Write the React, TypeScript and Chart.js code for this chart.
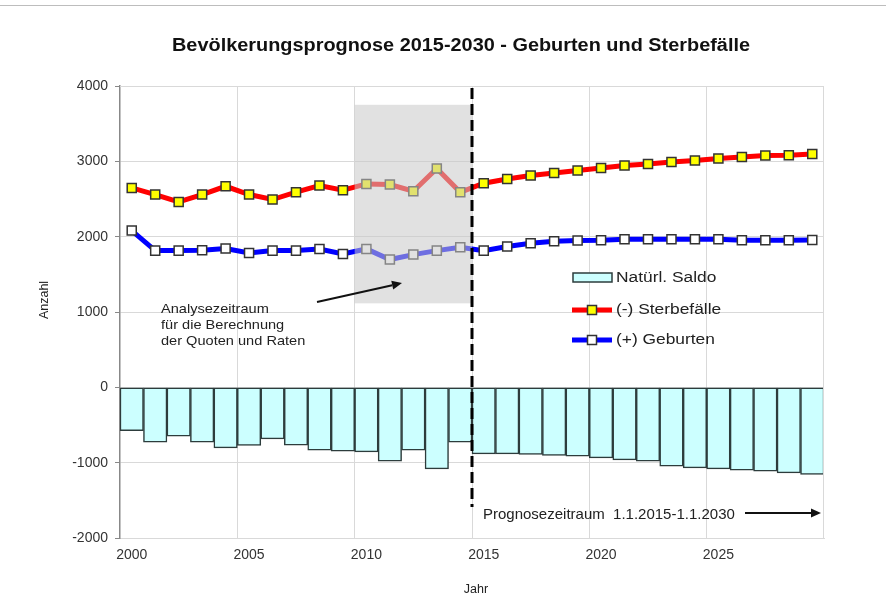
import React, { useEffect, useRef } from 'react';
import { Chart, registerables } from 'chart.js';

Chart.register(...registerables);

const FONT = "'Liberation Sans', Arial, sans-serif";

const years = [
  '2000', '2001', '2002', '2003', '2004', '2005', '2006', '2007', '2008', '2009',
  '2010', '2011', '2012', '2013', '2014', '2015', '2016', '2017', '2018', '2019',
  '2020', '2021', '2022', '2023', '2024', '2025', '2026', '2027', '2028', '2029',
];

const sterbefaelle = [
  2647, 2559, 2461, 2559, 2669, 2559, 2493, 2590, 2679, 2616,
  2700, 2692, 2603, 2904, 2590, 2709, 2766, 2811, 2846, 2878,
  2912, 2944, 2965, 2991, 3010, 3037, 3058, 3077, 3081, 3098,
];

const geburten = [
  2081, 1815, 1815, 1819, 1842, 1784, 1815, 1815, 1837, 1770,
  1837, 1696, 1762, 1815, 1859, 1815, 1869, 1912, 1939, 1948,
  1952, 1965, 1965, 1965, 1965, 1965, 1952, 1952, 1952, 1956,
];

const saldo = [
  -574, -728, -649, -728, -804, -772, -685, -768, -834, -848,
  -857, -980, -834, -1082, -728, -883, -883, -891, -905, -914,
  -936, -963, -980, -1046, -1069, -1082, -1099, -1113, -1135, -1156,
];

const yTicks = [-2000, -1000, 0, 1000, 2000, 3000, 4000];
const xLabelYears = ['2000', '2005', '2010', '2015', '2020', '2025'];

// annotation ranges (data units)
const analyseFrom = '2010';
const analyseTo = '2014';
const analyseLow = 1115;
const analyseHigh = 3750;
const prognoseStart = '2015';

const titleText = 'Bevölkerungsprognose 2015-2030 - Geburten und Sterbefälle';
const analyseLines = ['Analysezeitraum', 'für die Berechnung', 'der Quoten und Raten'];
const prognoseText = 'Prognosezeitraum  1.1.2015-1.1.2030';
const legendLabels = ['Natürl. Saldo', '(-) Sterbefälle', '(+) Geburten'];

function arrow(ctx: CanvasRenderingContext2D, x0: number, y0: number, x1: number, y1: number) {
  const ang = Math.atan2(y1 - y0, x1 - x0);
  const hl = 10;
  const hw = 4.5;
  const bx = x1 - hl * Math.cos(ang);
  const by = y1 - hl * Math.sin(ang);
  ctx.save();
  ctx.strokeStyle = '#111';
  ctx.fillStyle = '#111';
  ctx.lineWidth = 2;
  ctx.beginPath();
  ctx.moveTo(x0, y0);
  ctx.lineTo(bx, by);
  ctx.stroke();
  ctx.beginPath();
  ctx.moveTo(x1, y1);
  ctx.lineTo(bx + hw * Math.sin(ang), by - hw * Math.cos(ang));
  ctx.lineTo(bx - hw * Math.sin(ang), by + hw * Math.cos(ang));
  ctx.closePath();
  ctx.fill();
  ctx.restore();
}

function stretchText(ctx: CanvasRenderingContext2D, text: string, x: number, y: number, sx: number) {
  ctx.save();
  ctx.translate(x, y);
  ctx.scale(sx, 1);
  ctx.fillText(text, 0, 0);
  ctx.restore();
}

function drawMarker(ctx: CanvasRenderingContext2D, x: number, y: number, fill: string) {
  ctx.fillStyle = fill;
  ctx.strokeStyle = '#333';
  ctx.lineWidth = 1.5;
  ctx.fillRect(x - 4.5, y - 4.5, 9, 9);
  ctx.strokeRect(x - 4.5, y - 4.5, 9, 9);
}

const overlay = {
  id: 'overlay',
  beforeDraw(chart: any) {
    const ctx = chart.ctx as CanvasRenderingContext2D;
    ctx.save();
    ctx.fillStyle = '#fff';
    ctx.fillRect(0, 0, chart.width, chart.height);
    ctx.strokeStyle = '#bdbdbd';
    ctx.lineWidth = 1;
    ctx.beginPath();
    ctx.moveTo(0, 5.5);
    ctx.lineTo(chart.width, 5.5);
    ctx.stroke();
    ctx.restore();
  },
  afterDatasetsDraw(chart: any) {
    const ctx = chart.ctx as CanvasRenderingContext2D;
    const { chartArea } = chart;
    const x = chart.scales.x;
    const y = chart.scales.y;
    const cw = x.getPixelForValue(1) - x.getPixelForValue(0);
    ctx.save();
    // analysis period box (semi-transparent, over the lines)
    const bx0 = x.getPixelForValue(years.indexOf(analyseFrom)) - cw / 2;
    const bx1 = x.getPixelForValue(years.indexOf(analyseTo)) + cw / 2;
    const by0 = y.getPixelForValue(analyseHigh);
    const by1 = y.getPixelForValue(analyseLow);
    ctx.fillStyle = 'rgba(200,200,200,0.55)';
    ctx.fillRect(bx0, by0, bx1 - bx0, by1 - by0);
    // chart area border
    ctx.strokeStyle = '#d9d9d9';
    ctx.lineWidth = 1;
    ctx.beginPath();
    ctx.moveTo(chartArea.left, chartArea.top + 0.5);
    ctx.lineTo(chartArea.right - 0.5, chartArea.top + 0.5);
    ctx.lineTo(chartArea.right - 0.5, chartArea.bottom);
    ctx.stroke();
    // dashed line at start of forecast
    const dx = x.getPixelForValue(years.indexOf(prognoseStart)) - cw / 2;
    ctx.strokeStyle = '#000';
    ctx.lineWidth = 3;
    ctx.setLineDash([11, 5]);
    ctx.beginPath();
    ctx.moveTo(dx, chartArea.top + 2);
    ctx.lineTo(dx, 507);
    ctx.stroke();
    ctx.setLineDash([]);
    ctx.restore();
  },
  afterDraw(chart: any) {
    const ctx = chart.ctx as CanvasRenderingContext2D;
    ctx.save();
    // title
    ctx.fillStyle = '#111';
    ctx.font = `bold 18px ${FONT}`;
    ctx.textAlign = 'center';
    ctx.textBaseline = 'middle';
    const tw = ctx.measureText(titleText).width;
    stretchText(ctx, titleText, 461, 46, 578 / tw);

    // axis titles
    ctx.font = `12.5px ${FONT}`;
    ctx.fillStyle = '#222';
    ctx.fillText('Jahr', 476, 590);
    ctx.save();
    ctx.translate(45, 300);
    ctx.rotate(-Math.PI / 2);
    ctx.fillText('Anzahl', 0, 0);
    ctx.restore();

    // analysis annotation
    ctx.textAlign = 'left';
    ctx.font = `13.5px ${FONT}`;
    analyseLines.forEach((t, i) => stretchText(ctx, t, 161, 309 + i * 16, 1.08));
    arrow(ctx, 317, 302, 402, 283);

    // forecast annotation
    ctx.font = `15px ${FONT}`;
    ctx.fillText(prognoseText, 483, 515);
    arrow(ctx, 745, 513, 821, 513);

    // legend
    ctx.fillStyle = '#ccffff';
    ctx.strokeStyle = '#2d3c3c';
    ctx.lineWidth = 1.5;
    ctx.fillRect(573, 273, 39, 9);
    ctx.strokeRect(573, 273, 39, 9);
    ctx.lineWidth = 5;
    ctx.strokeStyle = '#ff0000';
    ctx.beginPath();
    ctx.moveTo(572, 310);
    ctx.lineTo(612, 310);
    ctx.stroke();
    drawMarker(ctx, 592, 310, '#ffff00');
    ctx.lineWidth = 5;
    ctx.strokeStyle = '#0000ff';
    ctx.beginPath();
    ctx.moveTo(572, 340);
    ctx.lineTo(612, 340);
    ctx.stroke();
    drawMarker(ctx, 592, 340, '#ffffff');
    ctx.fillStyle = '#222';
    ctx.font = `15.5px ${FONT}`;
    const ly = [278, 310, 340];
    legendLabels.forEach((t, i) => stretchText(ctx, t, 616, ly[i], 1.12));
    ctx.restore();
  },
};

export default function App() {
  const ref = useRef<HTMLCanvasElement>(null);
  useEffect(() => {
    const chart = new Chart(ref.current as HTMLCanvasElement, {
      type: 'bar',
      data: {
        labels: years,
        datasets: [
          {
            type: 'line',
            label: legendLabels[1],
            data: sterbefaelle,
            borderColor: '#ff0000',
            borderWidth: 5,
            pointStyle: 'rect',
            pointRadius: 6.4,
            pointBackgroundColor: '#ffff00',
            pointBorderColor: '#333',
            pointBorderWidth: 1.5,
            tension: 0,
            order: 1,
          },
          {
            type: 'line',
            label: legendLabels[2],
            data: geburten,
            borderColor: '#0000ff',
            borderWidth: 5,
            pointStyle: 'rect',
            pointRadius: 6.4,
            pointBackgroundColor: '#ffffff',
            pointBorderColor: '#333',
            pointBorderWidth: 1.5,
            tension: 0,
            order: 2,
          },
          {
            type: 'bar',
            label: legendLabels[0],
            data: saldo,
            backgroundColor: '#ccffff',
            borderColor: '#2d3c3c',
            borderWidth: 1.5,
            borderSkipped: false,
            barPercentage: 1,
            categoryPercentage: 1,
            order: 3,
          },
        ] as any,
      },
      options: {
        responsive: false,
        animation: false,
        events: [],
        layout: { padding: { left: 0, right: 62, top: 86, bottom: 0 } },
        plugins: {
          legend: { display: false },
          title: { display: false },
          tooltip: { enabled: false },
        },
        scales: {
          x: {
            type: 'category',
            offset: true,
            grid: {
              offset: true,
              drawTicks: false,
              color: (c: any) =>
                typeof c.index === 'number' && xLabelYears.includes(years[c.index]) && c.index > 0
                  ? '#d9d9d9'
                  : 'rgba(0,0,0,0)',
            },
            border: { display: true, color: '#d9d9d9', width: 1 },
            ticks: {
              autoSkip: false,
              maxRotation: 0,
              padding: 9,
              color: '#333',
              font: { family: FONT, size: 14 },
              callback: (_v: any, i: number) => (xLabelYears.includes(years[i]) ? years[i] : ''),
            },
            afterFit: (s: any) => {
              s.height = 69;
              s.paddingLeft = 0;
              s.paddingRight = 0;
            },
          },
          y: {
            type: 'linear',
            min: -2000,
            max: 4000,
            afterBuildTicks: (s: any) => {
              s.ticks = yTicks.map((v) => ({ value: v }));
            },
            ticks: {
              padding: 7,
              color: '#333',
              font: { family: FONT, size: 14 },
              callback: (v: any) => String(v),
            },
            grid: { color: '#d9d9d9', tickColor: '#888', tickLength: 5 },
            border: { display: true, color: '#888', width: 1.5 },
            afterFit: (s: any) => {
              s.width = 120;
              s.paddingTop = 0;
              s.paddingBottom = 0;
            },
          },
        },
      } as any,
      plugins: [overlay],
    });
    return () => chart.destroy();
  }, []);
  return (
    <div style={{ position: 'fixed', left: 0, top: 0, width: 886, height: 607, background: '#fff' }}>
      <canvas ref={ref} width={886} height={607} style={{ display: 'block', width: 886, height: 607 }} />
    </div>
  );
}
